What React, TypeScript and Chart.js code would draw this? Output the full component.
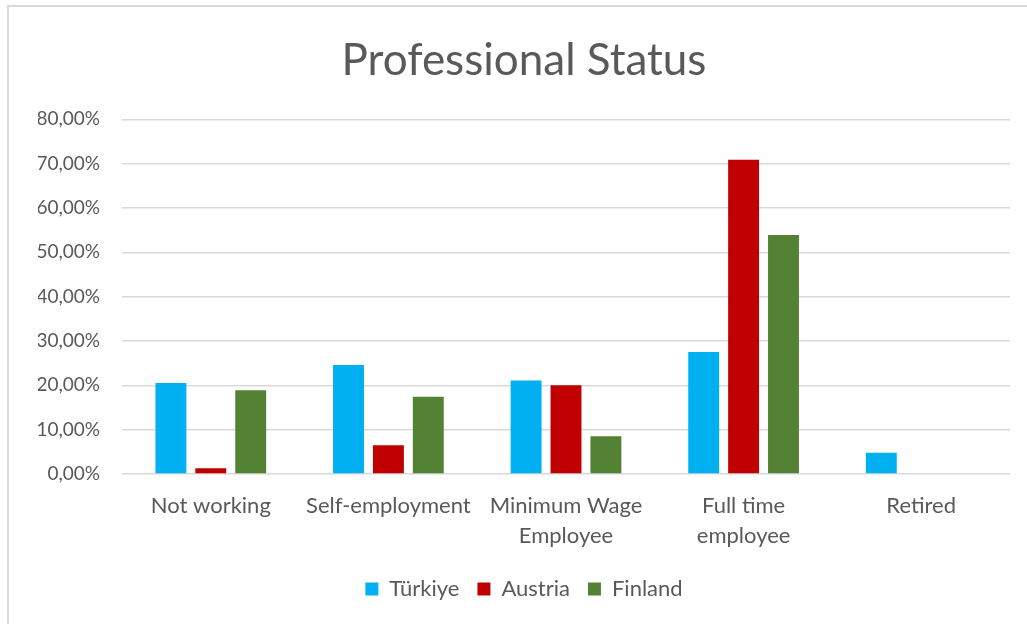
import React, { useEffect, useRef } from "react";
import { Chart, registerables } from "chart.js";

Chart.register(...registerables);

const categories: (string | string[])[] = [
  "Not working",
  "Self-employment",
  ["Minimum Wage", "Employee"],
  ["Full time", "employee"],
  "Retired",
];
const turkiye = [20.5, 24.6, 21.1, 27.5, 4.8];
const austria = [1.3, 6.5, 20.0, 70.9, 0];
const finland = [18.9, 17.4, 8.5, 53.9, 0];
const yTicks = [0, 10, 20, 30, 40, 50, 60, 70, 80];

const FONT = "Lato, 'Open Sans', sans-serif";
const TEXT = "#595959";
const LEFT = 38;

export default function App() {
  const ref = useRef<HTMLCanvasElement | null>(null);
  useEffect(() => {
    if (!ref.current) return;
    const chart = new Chart(ref.current, {
      type: "bar",
      data: {
        labels: categories,
        datasets: [
          { label: "Türkiye", data: turkiye, backgroundColor: "#00b0f0" },
          { label: "Austria", data: austria, backgroundColor: "#c00000" },
          { label: "Finland", data: finland, backgroundColor: "#548235" },
        ],
      },
      options: {
        animation: false,
        responsive: false,
        maintainAspectRatio: false,
        datasets: { bar: { categoryPercentage: 0.674, barPercentage: 0.775 } },
        layout: { padding: { left: LEFT, right: 17, top: 0, bottom: 14 } },
        plugins: {
          title: {
            display: true,
            text: "Professional Status",
            color: TEXT,
            font: { family: FONT, size: 44, weight: "normal" },
            padding: { top: 34, bottom: 32.5 },
          },
          legend: {
            display: true,
            position: "bottom",
            labels: {
              color: TEXT,
              font: { family: FONT, size: 22 },
              boxWidth: 13,
              boxHeight: 13,
              padding: 18,
            },
          },
          tooltip: { enabled: false },
        },
        scales: {
          x: {
            grid: { display: false },
            border: { display: false },
            ticks: {
              color: TEXT,
              font: { family: FONT, size: 22, lineHeight: "30px" },
              padding: 9,
              maxRotation: 0,
              autoSkip: false,
            },
          },
          y: {
            min: 0,
            max: 80,
            afterFit: (axis: any) => {
              axis.width = 122 - LEFT;
            },
            afterBuildTicks: (axis: any) => {
              axis.ticks = yTicks.map((v) => ({ value: v }));
            },
            grid: { color: "#d9d9d9", lineWidth: 1.5, drawTicks: false },
            border: { display: false },
            ticks: {
              color: TEXT,
              font: { family: FONT, size: 19 },
              padding: 22,
              callback: (v: any) => Number(v).toFixed(2).replace(".", ",") + "%",
            },
          },
        },
      },
    });
    return () => chart.destroy();
  }, []);
  return (
    <div style={{ position: "fixed", left: 0, top: 0, width: 1027, height: 624, background: "#fff" }}>
      <div
        style={{
          position: "absolute",
          left: 7,
          top: 5,
          right: 0,
          bottom: 0,
          borderTop: "2px solid #d9d9d9",
          borderLeft: "2px solid #d9d9d9",
        }}
      />
      <canvas ref={ref} width={1027} height={624} style={{ position: "absolute", left: 0, top: 0 }} />
    </div>
  );
}
